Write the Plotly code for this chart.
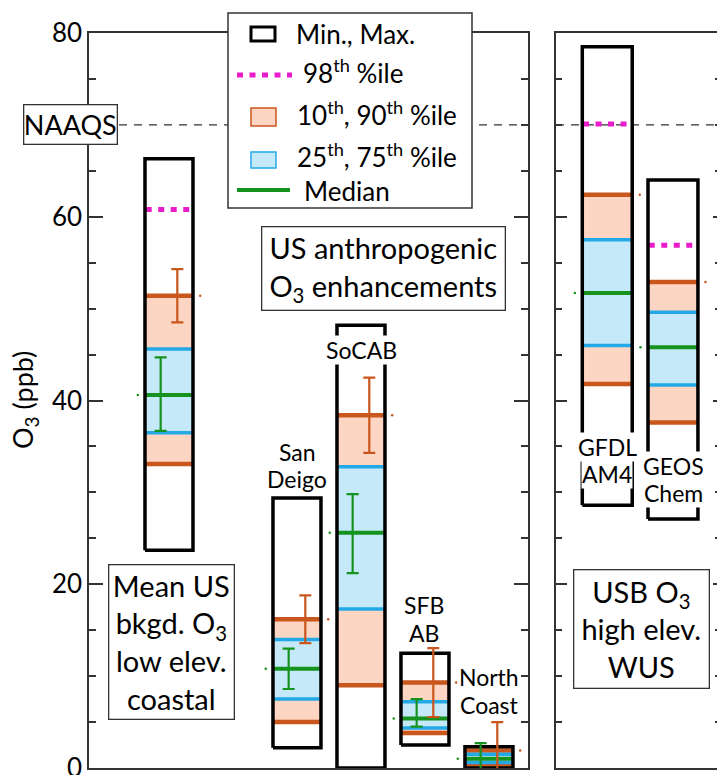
import plotly.graph_objects as go

# ---------------- data (ppb) ----------------
sites = ["Mean US bkgd.", "San Deigo", "SoCAB", "SFB AB", "North Coast"]
site_min = [23.7, 2.2, 0.0, 2.5, 0.0]
site_max = [66.3, 29.4, 48.2, 12.5, 2.3]
site_p98 = [60.8, None, None, None, None]
site_p10 = [33.1, 5.0, 9.0, 3.8, 0.3]
site_p25 = [36.5, 7.5, 17.3, 4.35, 0.6]
site_med = [40.6, 10.8, 25.6, 5.4, 1.0]
site_p75 = [45.6, 14.0, 32.8, 7.2, 1.5]
site_p90 = [51.4, 16.2, 38.4, 9.3, 1.9]
site_p90_err = [2.9, 2.6, 4.1, 3.75, 3.1]
site_med_err_up = [4.1, 2.2, 4.2, 2.1, 1.7]
site_med_err_dn = [3.9, 2.2, 4.4, 0.9, 1.7]

models = ["GFDL AM4", "GEOS Chem"]
model_min = [28.6, 27.1]
model_max = [78.5, 64.0]
model_p98 = [70.1, 56.9]
model_p10 = [41.8, 37.6]
model_p25 = [46.0, 41.7]
model_med = [51.7, 45.8]
model_p75 = [57.5, 49.6]
model_p90 = [62.4, 52.9]

naaqs = 70
y_ticks = [0, 20, 40, 60, 80]

# ---------------- layout / style ----------------
W, H = 717, 775
ML, MR, MT, MB = 89, 0, 33, 7
PW, PH = W - ML - MR, H - MT - MB

def pxx(px):
    return (px - ML) / PW

def pxy(py):
    return (H - MB - py) / PH

FONT = "Lato"
C_OR_FILL = "#FDD6C3"
C_OR_LINE = "#C9561D"
C_BL_FILL = "#C6E9FA"
C_BL_LINE = "#22A9E6"
C_GREEN = "#16921F"
C_MAG = "#E91CCB"
C_AX = "#333333"

site_pos = [0, 2, 3, 4, 5]
model_pos = [0, 1]
HW_S = 0.375
HW_M = 0.38


def rects(pos, lo, hi, hw):
    xs, ys = [], []
    for c, a, b in zip(pos, lo, hi):
        if a is None or b is None:
            continue
        xs += [c - hw, c + hw, c + hw, c - hw, c - hw, None]
        ys += [a, a, b, b, a, None]
    return xs, ys


def hsegs(pos, vals, hw):
    xs, ys = [], []
    for c, v in zip(pos, vals):
        if v is None:
            continue
        xs += [c - hw, c + hw, None]
        ys += [v, v, None]
    return xs, ys


fig = go.Figure()


def add_panel(pos, hw, vmin, vmax, p98, p10, p25, med, p75, p90, xa, ya, x_range):
    # NAAQS dashed line
    fig.add_trace(go.Scatter(x=[x_range[0], x_range[1]], y=[naaqs, naaqs], mode="lines",
                             line=dict(color=C_AX, width=1.3, dash="8px,7px"),
                             xaxis=xa, yaxis=ya, hoverinfo="skip", showlegend=False))
    x, y = rects(pos, p10, p90, hw)
    fig.add_trace(go.Scatter(x=x, y=y, mode="lines", fill="toself", fillcolor=C_OR_FILL,
                             line=dict(width=0), xaxis=xa, yaxis=ya, showlegend=False, hoverinfo="skip"))
    x, y = rects(pos, p25, p75, hw)
    fig.add_trace(go.Scatter(x=x, y=y, mode="lines", fill="toself", fillcolor=C_BL_FILL,
                             line=dict(width=0), xaxis=xa, yaxis=ya, showlegend=False, hoverinfo="skip"))
    x, y = hsegs(pos + pos, p10 + p90, hw)
    fig.add_trace(go.Scatter(x=x, y=y, mode="lines", line=dict(color=C_OR_LINE, width=4.5),
                             xaxis=xa, yaxis=ya, showlegend=False, hoverinfo="skip"))
    x, y = hsegs(pos + pos, p25 + p75, hw)
    fig.add_trace(go.Scatter(x=x, y=y, mode="lines", line=dict(color=C_BL_LINE, width=3.5),
                             xaxis=xa, yaxis=ya, showlegend=False, hoverinfo="skip"))
    x, y = hsegs(pos, med, hw)
    fig.add_trace(go.Scatter(x=x, y=y, mode="lines", line=dict(color=C_GREEN, width=4),
                             xaxis=xa, yaxis=ya, showlegend=False, hoverinfo="skip"))
    x, y = hsegs(pos, p98, hw * 0.97)
    fig.add_trace(go.Scatter(x=x, y=y, mode="lines", line=dict(color=C_MAG, width=5, dash="6px,6.5px"),
                             xaxis=xa, yaxis=ya, showlegend=False, hoverinfo="skip"))
    x, y = rects(pos, vmin, vmax, hw)
    fig.add_trace(go.Scatter(x=x, y=y, mode="lines", line=dict(color="black", width=3.5),
                             xaxis=xa, yaxis=ya, showlegend=False, hoverinfo="skip"))
    # tiny marker dots beside the boxes
    fig.add_trace(go.Scatter(x=[c + hw * 1.3 for c in pos], y=p90, mode="markers",
                             marker=dict(color=C_OR_LINE, size=2.5), xaxis=xa, yaxis=ya,
                             showlegend=False, hoverinfo="skip"))
    fig.add_trace(go.Scatter(x=[c - hw * 1.3 for c in pos], y=med, mode="markers",
                             marker=dict(color=C_GREEN, size=2.5), xaxis=xa, yaxis=ya,
                             showlegend=False, hoverinfo="skip"))


add_panel(site_pos, HW_S, site_min, site_max, site_p98, site_p10, site_p25, site_med,
          site_p75, site_p90, "x", "y", [-1.25, 5.61])
add_panel(model_pos, HW_M, model_min, model_max, model_p98, model_p10, model_p25, model_med,
          model_p75, model_p90, "x2", "y2", [-0.78, 1.67])

# error bars (sites only)
fig.add_trace(go.Scatter(x=[c + 0.13 for c in site_pos], y=site_p90, mode="markers",
                         marker=dict(size=0.1, color=C_OR_LINE, opacity=0), cliponaxis=False,
                         error_y=dict(type="data", array=site_p90_err, color=C_OR_LINE,
                                      thickness=2.2, width=6),
                         showlegend=False, hoverinfo="skip"))
fig.add_trace(go.Scatter(x=[c - 0.13 for c in site_pos], y=site_med, mode="markers",
                         marker=dict(size=0.1, color=C_GREEN, opacity=0), cliponaxis=False,
                         error_y=dict(type="data", symmetric=False, array=site_med_err_up,
                                      arrayminus=site_med_err_dn, color=C_GREEN,
                                      thickness=2.2, width=6),
                         showlegend=False, hoverinfo="skip"))

ax_common = dict(showgrid=False, zeroline=False, showline=True, linecolor=C_AX, linewidth=1.5,
                 automargin=False)
yax = dict(range=[0, 80], tickvals=y_ticks, ticks="inside", tickwidth=1.5, tickcolor=C_AX,
           minor=dict(dtick=5, tick0=0, ticks="inside", ticklen=7, tickwidth=1.5, tickcolor=C_AX, showgrid=False),
           **ax_common)

fig.update_layout(
    width=W, height=H, margin=dict(l=ML, r=MR, t=MT, b=MB, autoexpand=False),
    paper_bgcolor="white", plot_bgcolor="white",
    font=dict(family=FONT, color="black", size=24),
    xaxis=dict(domain=[0, 439 / PW], range=[-1.25, 5.61], showticklabels=False, ticks="",
               mirror=True, anchor="y", **ax_common),
    yaxis=dict(anchor="x", ticklen=14, mirror="ticks", tickfont=dict(size=26, family=FONT),
               ticklabeloverflow="allow", **yax),
    xaxis2=dict(domain=[467 / PW, 1], range=[-0.78, 1.67], showticklabels=False, ticks="",
                mirror=True, anchor="y2", **ax_common),
    yaxis2=dict(anchor="x2", ticklen=11, showticklabels=False,
                **{**yax, "minor": {**yax["minor"], "ticklen": 6}}),
    yaxis3=dict(anchor="x2", overlaying="y2", side="right", range=[0, 80], tickvals=y_ticks,
                ticks="inside", ticklen=4, tickwidth=1.5, tickcolor=C_AX, showticklabels=False,
                showline=False, showgrid=False, zeroline=False, automargin=False,
                minor=dict(dtick=5, ticks="inside", ticklen=2, tickwidth=1.5, tickcolor=C_AX)),
)
# dummy trace to activate yaxis3
fig.add_trace(go.Scatter(x=[0], y=[0], xaxis="x2", yaxis="y3", mode="markers",
                         marker=dict(opacity=0), showlegend=False, hoverinfo="skip"))

# ---------------- hand-made legend ----------------
shapes = []
shapes.append(dict(type="rect", xref="paper", yref="paper", x0=pxx(228), x1=pxx(472),
                   y0=pxy(208), y1=pxy(13), fillcolor="white", line=dict(color=C_AX, width=1.5),
                   layer="above"))
shapes.append(dict(type="rect", xref="paper", yref="paper", x0=pxx(251), x1=pxx(275),
                   y0=pxy(41), y1=pxy(27), line=dict(color="black", width=3), layer="above"))
shapes.append(dict(type="line", xref="paper", yref="paper", x0=pxx(237), x1=pxx(292),
                   y0=pxy(75), y1=pxy(75), line=dict(color=C_MAG, width=5, dash="6px,6.5px"),
                   layer="above"))
shapes.append(dict(type="rect", xref="paper", yref="paper", x0=pxx(251), x1=pxx(276),
                   y0=pxy(126), y1=pxy(108), fillcolor=C_OR_FILL,
                   line=dict(color=C_OR_LINE, width=1.5), layer="above"))
shapes.append(dict(type="rect", xref="paper", yref="paper", x0=pxx(251), x1=pxx(276),
                   y0=pxy(168), y1=pxy(152), fillcolor=C_BL_FILL,
                   line=dict(color=C_BL_LINE, width=1.5), layer="above"))
shapes.append(dict(type="line", xref="paper", yref="paper", x0=pxx(237), x1=pxx(290),
                   y0=pxy(190), y1=pxy(190), line=dict(color=C_GREEN, width=4), layer="above"))

ann = []
def txt(text, x, y, size=26, xanchor="left", **kw):
    ann.append(dict(text=text, x=pxx(x), y=pxy(y), xref="paper", yref="paper",
                    xanchor=xanchor, yanchor="middle", showarrow=False,
                    font=dict(size=size, family=FONT, color="black"), **kw))

txt("Min., Max.", 294, 34)
txt("98<sup>th</sup> %ile", 301, 71)
txt("10<sup>th</sup>, 90<sup>th</sup> %ile", 295, 113)
txt("25<sup>th</sup>, 75<sup>th</sup> %ile", 295, 155)
txt("Median", 302, 191)

# boxed annotations
def boxed(text, cx, cy, w, h, size=29):
    ann.append(dict(text=text, x=pxx(cx), y=pxy(cy), xref="paper", yref="paper",
                    xanchor="center", yanchor="middle", showarrow=False, width=w, height=h,
                    bgcolor="white", bordercolor=C_AX, borderwidth=1.3, borderpad=0,
                    font=dict(size=size, family=FONT, color="black")))

boxed("NAAQS", 70, 125, 92, 38, 27)
boxed("US anthropogenic<br>O<sub>3</sub> enhancements", 383, 268, 242, 82, 29)
boxed("Mean US<br>bkgd. O<sub>3</sub><br>low elev.<br>coastal", 171, 642, 124, 153, 29)
boxed("USB O<sub>3</sub><br>high elev.<br>WUS", 641, 629, 134, 117, 29)

# bar labels
def label(text, cx, cy, bg=None):
    d = dict(text=text, x=pxx(cx), y=pxy(cy), xref="paper", yref="paper",
             xanchor="center", yanchor="middle", showarrow=False,
             font=dict(size=23, family=FONT, color="black"), borderpad=0)
    if bg:
        d["bgcolor"] = bg
    ann.append(d)

label("San", 297, 452)
label("Deigo", 297, 479)
label("SoCAB", 361, 350, "white")
label("SFB", 424, 605)
label("AB", 424, 633)
label("North", 489, 677)
label("Coast", 489, 705)
label("GFDL", 607, 447, "white")
label("AM4", 607, 474, "white")
label("GEOS", 673, 466, "white")
label("Chem", 673, 493, "white")

# y-axis title
ann.append(dict(text="O<sub>3</sub> (ppb)", x=pxx(25), y=pxy(400), xref="paper", yref="paper",
                xanchor="center", yanchor="middle", showarrow=False, textangle=-90,
                font=dict(size=27, family=FONT, color="black")))

fig.update_layout(shapes=shapes, annotations=ann)
fig.write_html("out.html")
